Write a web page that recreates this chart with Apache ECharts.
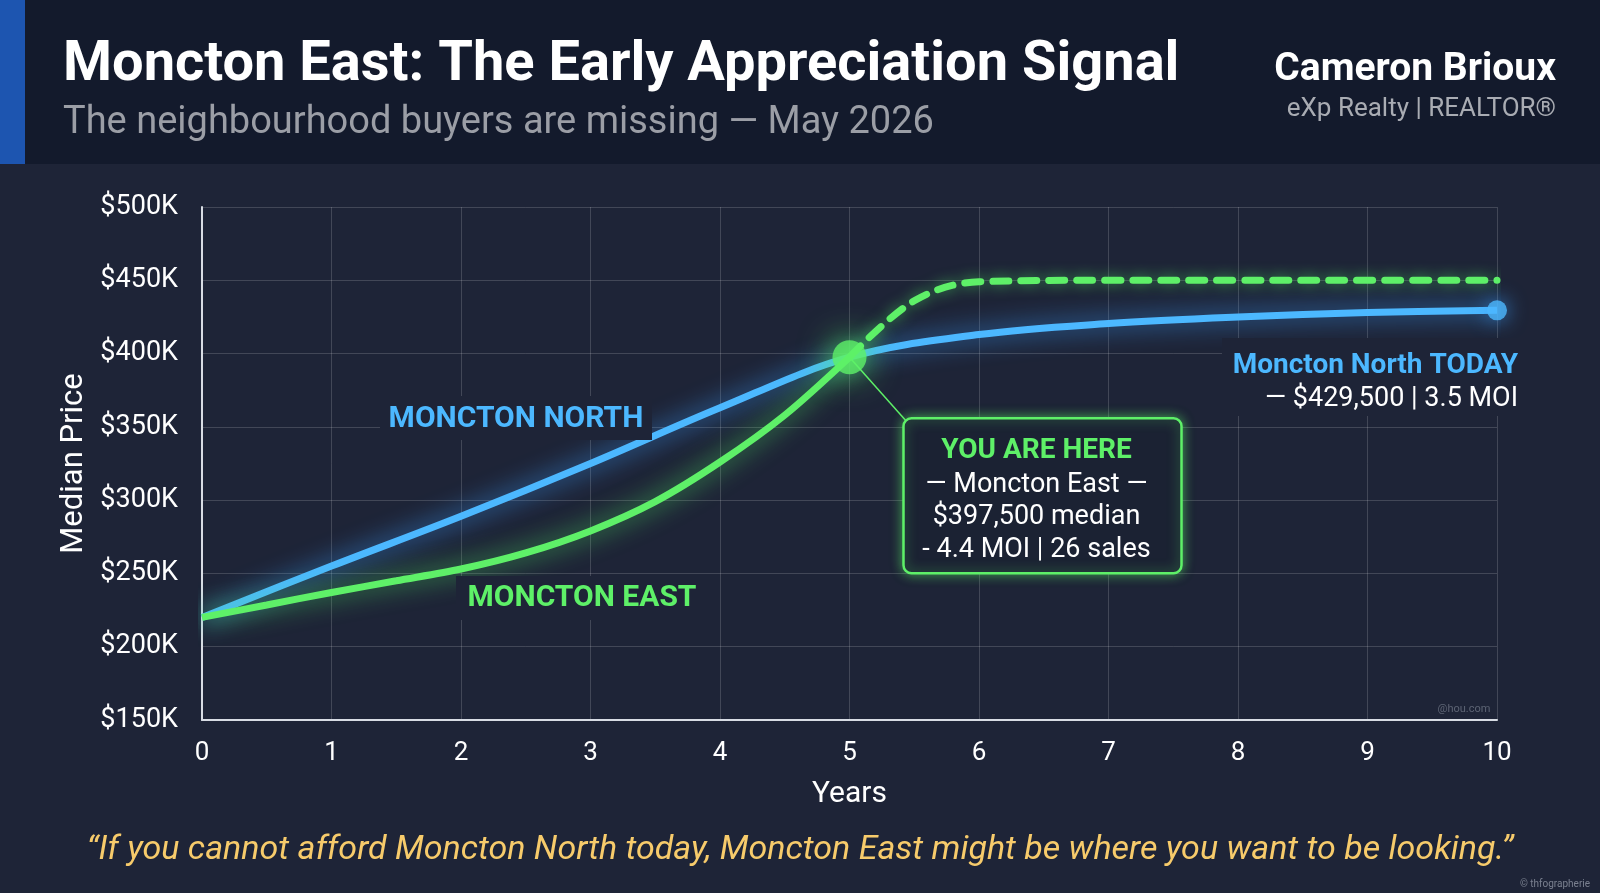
<!DOCTYPE html>
<html>
<head>
<meta charset="utf-8">
<script src="https://cdn.jsdelivr.net/npm/echarts@6/dist/echarts.min.js"></script>
<style>
    html, body { margin: 0; padding: 0; background: #1e2437; }
    #container { width: 1600px; height: 893px; }
</style>
</head>
<body>
<div id="container"></div>
<script>
let chart = echarts.init(document.getElementById('container'));

// years on the x axis
var years = [0, 1, 2, 3, 4, 5, 6, 7, 8, 9, 10];
// Moncton North median price
var northPrice = [220000, 255000, 289000, 325000, 363000, 397500, 413000, 420500, 425000, 428000, 429500];
// Moncton East median price (actual), read every half year
var eastYears = [0, 0.5, 1, 1.5, 2, 2.5, 3, 3.5, 4, 4.5, 5];
var eastPrice = [220000, 228500, 237000, 245000, 253000, 264000, 279000, 299000, 326000, 358000, 397500];
// Moncton East projection (dashed)
var eastForecastYears = [5, 5.5, 6, 7, 8, 9, 10];
var eastForecast = [397500, 436000, 449000, 450000, 450000, 450000, 450000];
var yTicks = [150000, 500000, 50000];

var BLUE = '#4cb8ff';
var GREEN = '#5ef068';
var FONT = 'Roboto';

function pairs(xs, ys) {
    return xs.map((x, i) => [x, ys[i]]);
}

let option = {
    backgroundColor: '#1e2437',
    animation: false,
    grid: {
        left: 202,
        right: 103,
        top: 207,
        bottom: 173,
    },
    xAxis: {
        type: 'value',
        min: 0,
        max: 10,
        interval: 1,
        name: 'Years',
        nameLocation: 'middle',
        nameGap: 59,
        nameTextStyle: { color: '#ffffff', fontSize: 30, fontFamily: FONT },
        axisLine: { show: true, onZero: false, lineStyle: { color: '#d8dce4', width: 2 } },
        axisTick: { show: false },
        axisLabel: { color: '#ffffff', fontSize: 26, fontFamily: FONT, margin: 20 },
        splitLine: { show: true, lineStyle: { color: 'rgba(255,255,255,0.16)', width: 1 } },
    },
    yAxis: {
        type: 'value',
        min: yTicks[0],
        max: yTicks[1],
        interval: yTicks[2],
        name: 'Median Price',
        nameLocation: 'middle',
        nameGap: 112,
        nameRotate: 90,
        nameTextStyle: { color: '#ffffff', fontSize: 31, fontFamily: FONT },
        axisLine: { show: true, lineStyle: { color: '#d8dce4', width: 2 } },
        axisTick: { show: false },
        axisLabel: {
            color: '#ffffff', fontSize: 27, fontFamily: FONT, margin: 24,
            formatter: v => '$' + (v / 1000) + 'K',
        },
        splitLine: { show: true, lineStyle: { color: 'rgba(255,255,255,0.16)', width: 1 } },
    },
    series: [
        {
            name: 'Moncton North',
            type: 'line',
            smooth: 0.35,
            showSymbol: false,
            z: 3,
            lineStyle: { color: BLUE, width: 7, shadowBlur: 24, shadowColor: 'rgba(60,160,255,0.9)' },
            data: pairs(years, northPrice),
        },
        {
            name: 'Moncton East',
            type: 'line',
            smooth: 0.3,
            showSymbol: false,
            z: 4,
            lineStyle: { color: GREEN, width: 7, shadowBlur: 24, shadowColor: 'rgba(80,240,100,0.8)' },
            data: pairs(eastYears, eastPrice),
        },
        {
            name: 'Moncton East forecast',
            type: 'line',
            smooth: 0.35,
            showSymbol: false,
            z: 4,
            lineStyle: { color: GREEN, width: 7, type: [16, 12], cap: 'round', shadowBlur: 14, shadowColor: 'rgba(80,240,100,0.6)' },
            data: pairs(eastForecastYears, eastForecast),
        },
        {
            type: 'scatter',
            z: 6,
            symbolSize: 20,
            itemStyle: { color: BLUE, shadowBlur: 20, shadowColor: 'rgba(60,160,255,1)' },
            data: [[years[10], northPrice[10]]],
        },
        {
            type: 'scatter',
            z: 7,
            symbolSize: 34,
            itemStyle: { color: GREEN, shadowBlur: 34, shadowColor: 'rgba(90,255,100,1)' },
            data: [[eastYears[eastYears.length - 1], eastPrice[eastPrice.length - 1]]],
        },
    ],
};
chart.setOption(option);

// annotations placed relative to data points
let here = chart.convertToPixel({ gridIndex: 0 }, [eastYears[eastYears.length - 1], eastPrice[eastPrice.length - 1]]);
let today = chart.convertToPixel({ gridIndex: 0 }, [years[10], northPrice[10]]);
let boxX = here[0] + 54, boxY = here[1] + 61;
let bg = '#1e2437';

function txt(x, y, text, font, fill, align) {
    return {
        type: 'text', z: 20, x: x, y: y,
        style: { text: text, font: font, fill: fill, align: align || 'center', verticalAlign: 'middle' }
    };
}

chart.setOption({
    graphic: [
        // header
        { type: 'rect', z: 10, shape: { x: 0, y: 0, width: 1600, height: 164 }, style: { fill: '#131a2c' } },
        { type: 'rect', z: 11, shape: { x: 0, y: 0, width: 25, height: 164 }, style: { fill: '#1d55b0' } },
        txt(63, 66, 'Moncton East: The Early Appreciation Signal', 'bold 56px Roboto', '#ffffff', 'left'),
        txt(63, 123, 'The neighbourhood buyers are missing \u2014 May 2026', '38px Roboto', '#9b9ea6', 'left'),
        txt(1556, 70, 'Cameron Brioux', 'bold 39px Roboto', '#ffffff', 'right'),
        txt(1556, 109, 'eXp Realty | REALTOR\u00ae', '26px Roboto', '#a9acb3', 'right'),

        // series labels with background patches
        { type: 'rect', z: 15, shape: { x: 380, y: 396, width: 272, height: 44 }, style: { fill: bg } },
        txt(516, 419, 'MONCTON NORTH', 'bold 30px Roboto', BLUE),
        { type: 'rect', z: 15, shape: { x: 456, y: 576, width: 254, height: 44 }, style: { fill: bg } },
        txt(582, 598, 'MONCTON EAST', 'bold 30px Roboto', GREEN),

        // Moncton North today label
        { type: 'rect', z: 15, shape: { x: 1222, y: 338, width: 306, height: 78 }, style: { fill: bg } },
        txt(today[0] + 21, 366, 'Moncton North TODAY', 'bold 28px Roboto', BLUE, 'right'),
        txt(today[0] + 21, 399, '\u2014 $429,500 | 3.5 MOI', '27px Roboto', '#ffffff', 'right'),

        // YOU ARE HERE callout
        { type: 'line', z: 5, shape: { x1: here[0], y1: here[1], x2: boxX + 2, y2: boxY + 2 },
          style: { stroke: GREEN, lineWidth: 1.5 } },
        { type: 'rect', z: 16, shape: { x: boxX, y: boxY, width: 278, height: 155, r: 8 },
          style: { fill: '#1b2233', stroke: GREEN, lineWidth: 2.5, shadowBlur: 12, shadowColor: 'rgba(90,240,100,0.6)' } },
        txt(boxX + 133, boxY + 33, 'YOU ARE HERE', 'bold 28px Roboto', GREEN),
        txt(boxX + 133, boxY + 67, '\u2014 Moncton East \u2014', '27px Roboto', '#ffffff'),
        txt(boxX + 133, boxY + 99, '$397,500 median', '27px Roboto', '#ffffff'),
        txt(boxX + 133, boxY + 132, '- 4.4 MOI | 26 sales', '27px Roboto', '#ffffff'),

        // watermarks and quote
        txt(1464, 709, '@hou.com', '11px Roboto', '#5d6474'),
        txt(800, 850, '\u201cIf you cannot afford Moncton North today, Moncton East might be where you want to be looking.\u201d',
            'italic 34px Roboto', '#f7cb6b'),
        txt(1590, 884, '\u00a9 thfographerie', '10px Roboto', '#7b8190', 'right'),
    ]
});
</script>
</body>
</html>
